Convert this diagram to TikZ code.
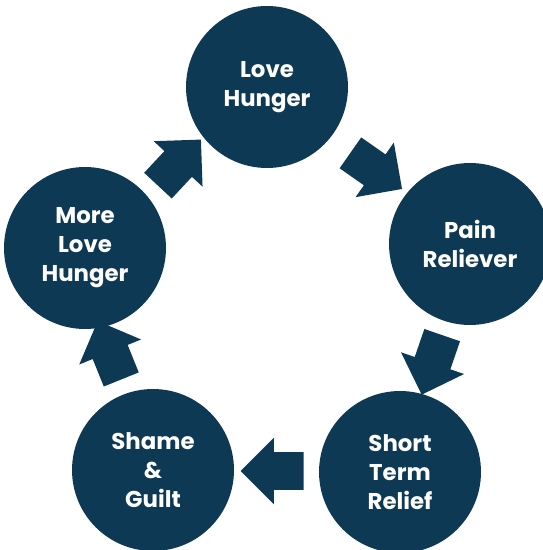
\documentclass[tikz,border=0pt]{standalone}
\usepackage{fontspec}
\setmainfont{Poppins}
\usepackage{xcolor}
\usetikzlibrary{shapes.arrows, calc}

\definecolor{cyclenavy}{RGB}{13,57,84}

\tikzset{
  stage/.style={draw=none, circle, fill=cyclenavy, text=white, minimum size=3.24cm, inner sep=0pt,
    text width=2.6cm, align=center, font=\fontsize{13}{16.5}\selectfont\bfseries},
  blockarrow/.style={single arrow, draw=none, fill=cyclenavy, minimum height=1.26cm,
    inner xsep=0pt, inner ysep=0.37cm, single arrow head extend=0.29cm, single arrow tip angle=90}
}

\begin{document}
\begin{tikzpicture}[x=0.02cm, y=-0.02cm]
            \useasboundingbox (0,0) rectangle (542,550);
            \node[stage] (love) at (267,87) {Love\\Hunger};
            \node[stage] (pain) at (470,244) {Pain\\Reliever};
            \node[stage] (relief) at (400,472) {Short\\Term\\Relief};
            \node[stage] (shame) at (153,470) {Shame\\\&\\Guilt};
            \node[stage] (more) at (85,248) {More\\Love\\Hunger};
            % arrows round the cycle
            \node[blockarrow, rotate=47] (a1) at ($(more)!0.5!(love)+(-3,2)$) {};
            \node[blockarrow, rotate=-35] (a2) at ($(love)!0.5!(pain)$) {};
            \node[blockarrow, rotate=-109] (a3) at ($(pain)!0.5!(relief)+(0,-2)$) {};
            \node[blockarrow, rotate=180] (a4) at ($(relief)!0.5!(shame)+(5,0)$) {};
            \node[blockarrow, rotate=112] (a5) at ($(shame)!0.5!(more)+(-6,0)$) {};
\end{tikzpicture}
\end{document}
